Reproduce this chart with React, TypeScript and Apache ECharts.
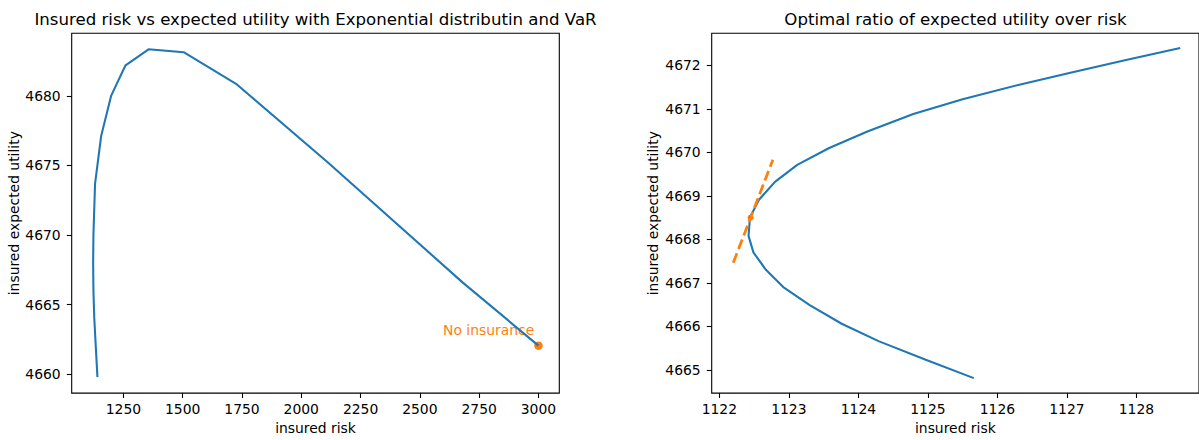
import { useEffect, useRef } from "react";
import * as echarts from "echarts";

// ---- Left panel: insured risk vs expected utility ----
const leftRisk = [1140.5, 1133.5, 1127.0, 1123.7, 1122.4, 1123.6, 1130.5, 1156, 1198, 1259, 1356, 1504, 1725, 2110, 2680, 3000];
const leftUtility = [4659.8, 4662.0, 4664.1, 4666.0, 4668.0, 4670.0, 4673.7, 4677.1, 4680.0, 4682.2, 4683.35, 4683.14, 4680.87, 4675.25, 4666.6, 4662.05];
const noInsuranceRisk = [3000];
const noInsuranceUtility = [4662.05];
const annotationRisk = [2600];
const annotationUtility = [4663.0];
const annotationText = "No insurance";
const leftXTicks = [1250, 1500, 1750, 2000, 2250, 2500, 2750, 3000];
const leftYTicks = [4660, 4665, 4670, 4675, 4680];

// ---- Right panel: optimal ratio ----
const rightRisk = [1125.66, 1124.96, 1124.29, 1123.76, 1123.3, 1122.93, 1122.67, 1122.49, 1122.42, 1122.44, 1122.57, 1122.8, 1123.12, 1123.58, 1124.13, 1124.79, 1125.5, 1126.3, 1127.05, 1127.85, 1128.63];
const rightUtility = [4664.81, 4665.24, 4665.66, 4666.06, 4666.49, 4666.89, 4667.3, 4667.7, 4668.08, 4668.5, 4668.91, 4669.32, 4669.71, 4670.1, 4670.48, 4670.88, 4671.22, 4671.55, 4671.83, 4672.12, 4672.4];
const tangentRisk = [1122.2, 1122.77];
const tangentUtility = [4667.46, 4669.83];
const optimumRisk = [1122.45];
const optimumUtility = [4668.5];
const rightXTicks = [1122, 1123, 1124, 1125, 1126, 1127, 1128];
const rightYTicks = [4665, 4666, 4667, 4668, 4669, 4670, 4671, 4672];

const titles = [
  "Insured risk vs expected utility with Exponential distributin and VaR",
  "Optimal ratio of expected utility over risk",
];
const xName = "insured risk";
const yName = "insured expected utility";

const FONT = "DejaVu Sans";
const BLUE = "#1f77b4";
const ORANGE = "#ff7f0e";
const FS = 13.9;

const zip = (a: number[], b: number[]) => a.map((v, i) => [v, b[i]]);
const plain = (v: number) => String(v);

function xAxisCfg(gridIndex: number, min: number, max: number, ticks: number[]) {
  return {
    type: "value",
    gridIndex,
    min,
    max,
    name: xName,
    nameLocation: "middle",
    nameGap: 27.5,
    nameTextStyle: { fontFamily: FONT, fontSize: FS, color: "#000" },
    axisLine: { show: false },
    splitLine: { show: false },
    axisTick: { show: true, length: 4.9, lineStyle: { color: "#000", width: 1.1 }, customValues: ticks },
    axisLabel: { customValues: ticks, formatter: plain, color: "#000", fontSize: FS, fontFamily: FONT, margin: 9 },
  };
}

function yAxisCfg(gridIndex: number, min: number, max: number, ticks: number[], gap: number) {
  return {
    type: "value",
    gridIndex,
    min,
    max,
    name: yName,
    nameLocation: "middle",
    nameGap: gap,
    nameTextStyle: { fontFamily: FONT, fontSize: FS, color: "#000" },
    axisLine: { show: false },
    splitLine: { show: false },
    axisTick: { show: true, length: 4.9, lineStyle: { color: "#000", width: 1.1 }, customValues: ticks },
    axisLabel: { customValues: ticks, formatter: plain, color: "#000", fontSize: FS, fontFamily: FONT, margin: 11 },
  };
}

export default function App() {
  const ref = useRef<HTMLDivElement>(null);
  useEffect(() => {
    if (!ref.current) return;
    const chart = echarts.init(ref.current, null, { renderer: "svg" });
    chart.setOption({
      animation: false,
      backgroundColor: "#fff",
      textStyle: { fontFamily: FONT },
      grid: [
        { left: 71.7, top: 33.3, width: 487.6, height: 364.2, show: true, borderColor: "#000", borderWidth: 1.1, backgroundColor: "transparent" },
        { left: 711.7, top: 33.3, width: 487.6, height: 364.2, show: true, borderColor: "#000", borderWidth: 1.1, backgroundColor: "transparent" },
      ],
      xAxis: [
        xAxisCfg(0, 1032, 3088, leftXTicks),
        xAxisCfg(1, 1121.89, 1128.9, rightXTicks),
      ],
      yAxis: [
        yAxisCfg(0, 4658.64, 4684.5, leftYTicks, 50),
        yAxisCfg(1, 4664.466, 4672.736, rightYTicks, 51.5),
      ],
      graphic: [
        { type: "text", x: 315.5, y: 19, style: { text: titles[0], fill: "#000", fontSize: 16.6, fontFamily: FONT, align: "center", verticalAlign: "middle" } },
        { type: "text", x: 955.5, y: 19, style: { text: titles[1], fill: "#000", fontSize: 16.6, fontFamily: FONT, align: "center", verticalAlign: "middle" } },
      ],
      series: [
        {
          type: "line",
          xAxisIndex: 0,
          yAxisIndex: 0,
          data: zip(leftRisk, leftUtility),
          showSymbol: false,
          symbol: "none",
          lineStyle: { color: BLUE, width: 2.08 },
          itemStyle: { color: BLUE },
        },
        {
          type: "scatter",
          xAxisIndex: 0,
          yAxisIndex: 0,
          data: zip(noInsuranceRisk, noInsuranceUtility),
          symbol: "circle",
          symbolSize: 8.5,
          itemStyle: { color: ORANGE, opacity: 1 },
        },
        {
          type: "scatter",
          xAxisIndex: 0,
          yAxisIndex: 0,
          data: zip(annotationRisk, annotationUtility),
          symbol: "circle",
          symbolSize: 1,
          itemStyle: { color: "transparent", opacity: 1 },
          label: {
            show: true,
            formatter: annotationText,
            position: "right",
            distance: 0,
            offset: [-1, -2],
            color: ORANGE,
            fontSize: FS,
            fontFamily: FONT,
          },
        },
        {
          type: "line",
          xAxisIndex: 1,
          yAxisIndex: 1,
          data: zip(rightRisk, rightUtility),
          showSymbol: false,
          symbol: "none",
          lineStyle: { color: BLUE, width: 2.08 },
          itemStyle: { color: BLUE },
        },
        {
          type: "line",
          xAxisIndex: 1,
          yAxisIndex: 1,
          data: zip(tangentRisk, tangentUtility),
          showSymbol: false,
          symbol: "none",
          lineStyle: { color: ORANGE, width: 2.78, type: [10.3, 4.4] },
          itemStyle: { color: ORANGE },
        },
        {
          type: "scatter",
          xAxisIndex: 1,
          yAxisIndex: 1,
          data: zip(optimumRisk, optimumUtility),
          symbol: "circle",
          symbolSize: 6,
          itemStyle: { color: ORANGE, opacity: 1 },
        },
      ],
    });
    return () => chart.dispose();
  }, []);
  return (
    <div
      ref={ref}
      style={{ position: "fixed", left: 0, top: 0, width: 1199, height: 440, background: "#fff" }}
    />
  );
}
